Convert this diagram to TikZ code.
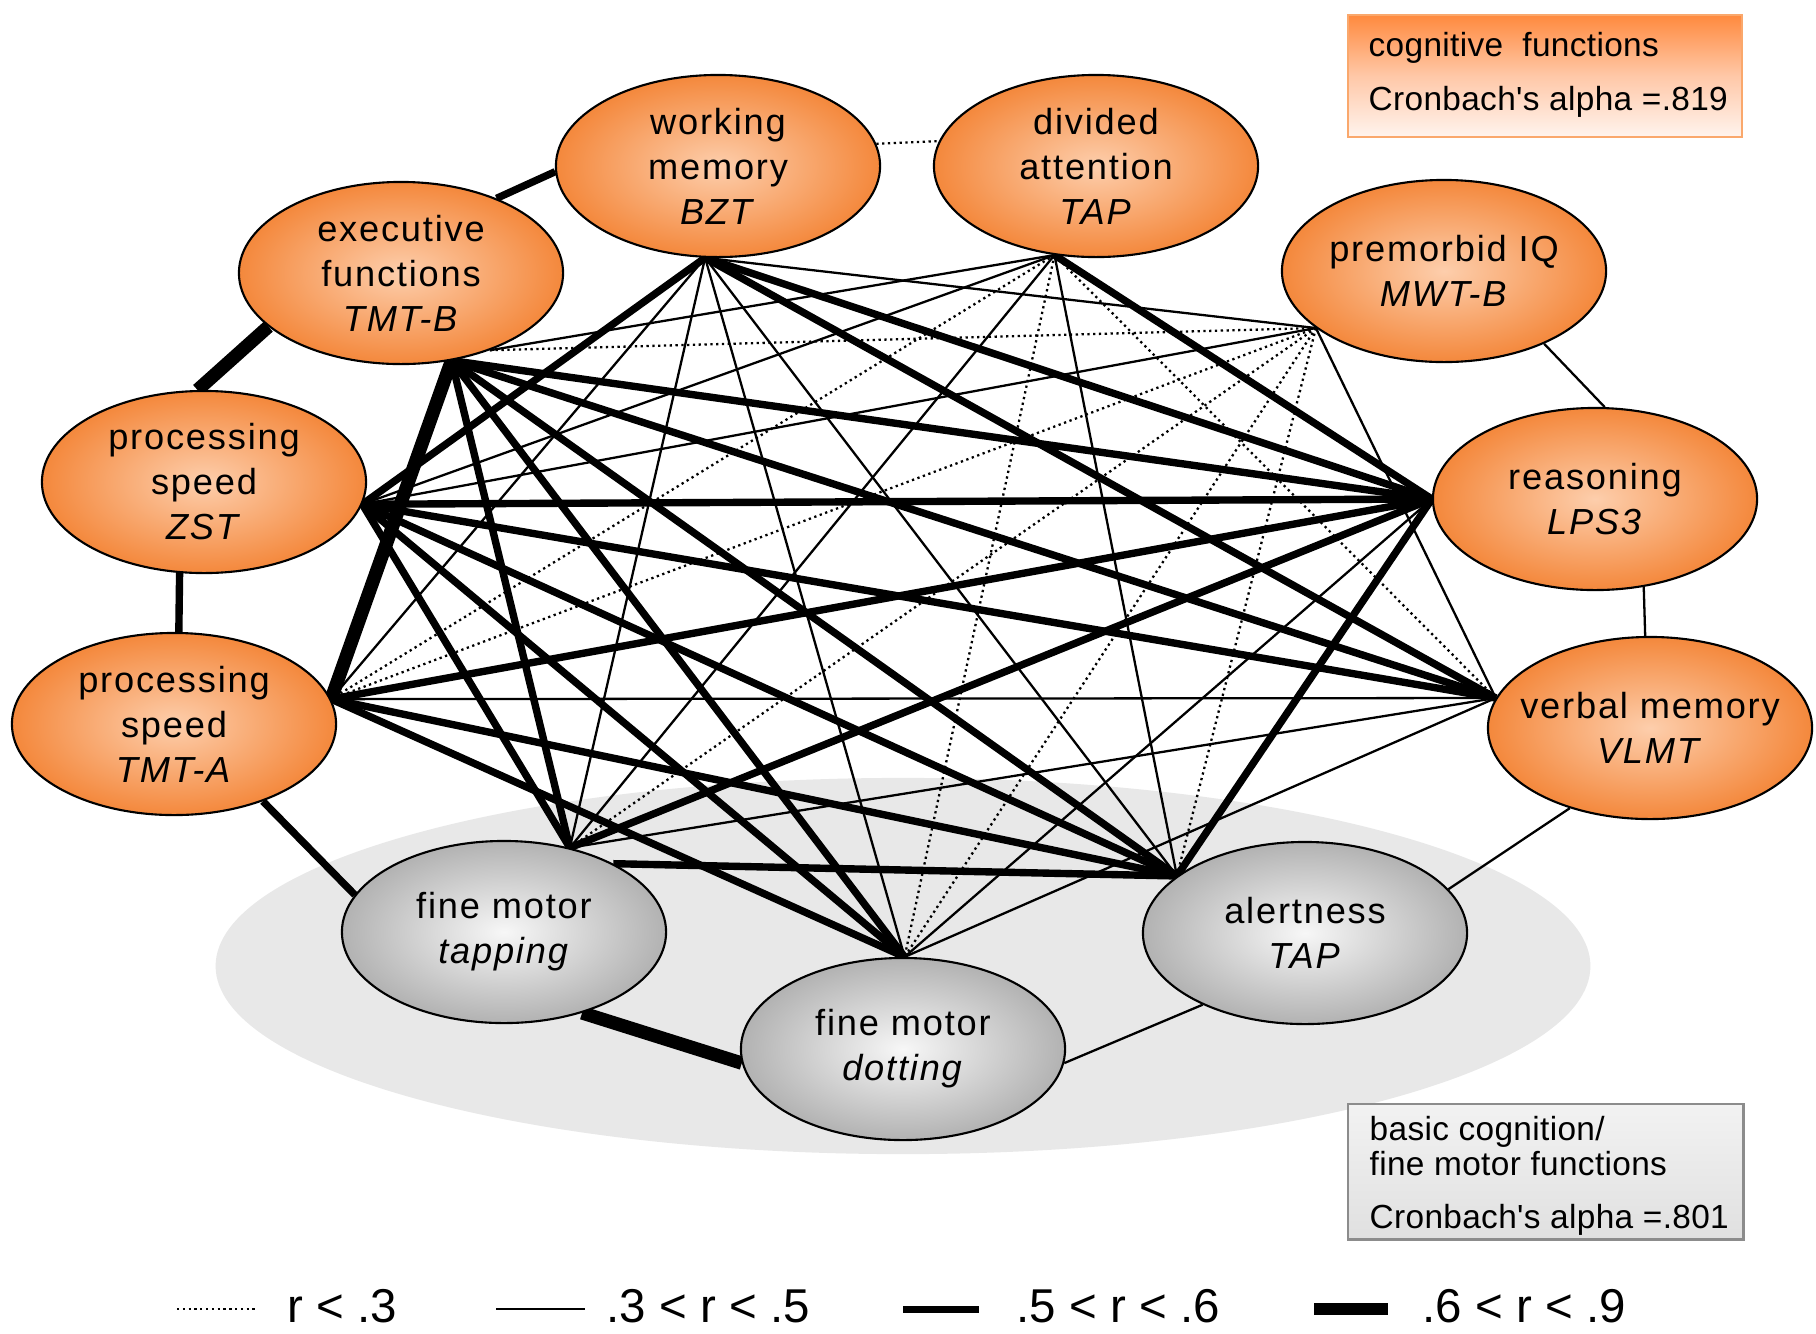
\documentclass[tikz,border=0pt]{standalone}
\usepackage{fontspec}
\setmainfont{Liberation Sans}
\newfontfamily\nodefont{Liberation Sans}[LetterSpace=5]
\newfontfamily\boxfont{Liberation Sans}[LetterSpace=1]
\usetikzlibrary{shapes.geometric}
\pgfdeclarelayer{bgA}
\pgfdeclarelayer{bgB}
\pgfsetlayers{bgA,bgB,main}
\definecolor{orO}{RGB}{244,136,60}
\definecolor{orI}{RGB}{253,206,172}
\definecolor{grO}{RGB}{178,178,178}
\definecolor{grI}{RGB}{247,247,247}
\definecolor{bgE}{RGB}{232,232,232}
\definecolor{boxTop}{RGB}{255,138,62}
\definecolor{boxMid}{RGB}{255,200,168}
\definecolor{boxBot}{RGB}{255,244,238}
\definecolor{boxLine}{RGB}{250,168,108}
\definecolor{gboxTop}{RGB}{242,242,242}
\definecolor{gboxBot}{RGB}{224,224,224}
\definecolor{gboxLine}{RGB}{140,140,140}
\newcommand\nodetext{\nodefont\fontsize{10.3}{12.8}\selectfont}
\newcommand\boxtext{\boxfont\fontsize{9.5}{11}\selectfont}
\newcommand\legtext{\fontsize{13.5}{16}\selectfont}
\tikzset{
  cog/.style={ellipse, draw, line width=0.6pt, minimum width=3.24cm, minimum height=1.82cm,
    inner sep=0pt, inner color=orI, outer color=orO},
  mot/.style={cog, inner color=grI, outer color=grO},
  ntxt/.style={align=center, inner sep=0pt, font=\nodetext},
  rlow/.style={line width=0.65pt, dash pattern=on 0.65pt off 1.0pt},
  rmid/.style={line width=0.65pt},
  rhigh/.style={line width=2.1pt},
  rtop/.style={line width=3.8pt},
  btxt/.style={anchor=base west, inner sep=0pt, font=\boxtext},
  ltxt/.style={anchor=base west, inner sep=0pt, font=\legtext}
}
\begin{document}
\begin{tikzpicture}[x=0.01cm,y=-0.01cm]
\useasboundingbox (0,0) rectangle (1816,1333);
\begin{pgfonlayer}{bgA}
\fill[white] (0,0) rectangle (1816,1333);
\fill[bgE] (903,966) ellipse [x radius=6.87cm, y radius=1.88cm];
\end{pgfonlayer}

% nodes (shapes)
\node[cog] (WM) at (718,166) {};
\node[cog] (DA) at (1096,166) {};
\node[cog] (EF) at (401,273) {};
\node[cog] (IQ) at (1444,271) {};
\node[cog] (PS) at (204,482) {};
\node[cog] (RE) at (1595,499) {};
\node[cog] (TA) at (174,724) {};
\node[cog] (VM) at (1650,728) {};
\node[mot] (FT) at (504,932) {};
\node[mot] (AL) at (1305,933) {};
\node[mot] (FD) at (903,1049) {};
% node texts
\node[ntxt] (WMt) at (WM.center) {working\\memory\\\textit{BZT}};
\node[ntxt] (DAt) at (DA.center) {divided\\attention\\\textit{TAP}};
\node[ntxt] (EFt) at (EF.center) {executive\\functions\\\textit{TMT-B}};
\node[ntxt] (IQt) at (IQ.center) {premorbid IQ\\\textit{MWT-B}};
\node[ntxt] (PSt) at (PS.center) {processing\\speed\\\textit{ZST}};
\node[ntxt] (REt) at (RE.center) {reasoning\\\textit{LPS3}};
\node[ntxt] (TAt) at (TA.center) {processing\\speed\\\textit{TMT-A}};
\node[ntxt] (VMt) at (VM.center) {verbal memory\\\textit{VLMT}};
\node[ntxt] (FTt) at (FT.center) {fine motor\\\textit{tapping}};
\node[ntxt] (ALt) at (AL.center) {alertness\\\textit{TAP}};
\node[ntxt] (FDt) at (FD.center) {fine motor\\\textit{dotting}};

% hub points on the borders
\coordinate (wm) at (WM.262);
\coordinate (da) at (DA.245);
\coordinate (ef) at (EF.300);
\coordinate (efr) at (EF.319);
\coordinate (iq) at (IQ.204);
\coordinate (ps) at (PS.352);
\coordinate (re) at (RE.180);
\coordinate (ta) at (TA.9);
\coordinate (vm) at (VM.169);
\coordinate (ft) at (FT.52);
\coordinate (ftr) at (FT.32);
\coordinate (al) at (AL.156);
\coordinate (fd) at (FD.89);

\begin{pgfonlayer}{bgB}
% r < .3
\draw[rlow] (da) -- (ta);
\draw[rlow] (da) -- (fd);
\draw[rlow] (da) -- (vm);
\draw[rlow] (efr) -- (iq);
\draw[rlow] (iq) -- (ta);
\draw[rlow] (iq) -- (ft);
\draw[rlow] (iq) -- (fd);
\draw[rlow] (iq) -- (al);
% .3 < r < .5
\draw[rmid] (wm) -- (ta);
\draw[rmid] (wm) -- (ft);
\draw[rmid] (wm) -- (fd);
\draw[rmid] (wm) -- (al);
\draw[rmid] (wm) -- (iq);
\draw[rmid] (da) -- (efr);
\draw[rmid] (da) -- (ps);
\draw[rmid] (da) -- (ft);
\draw[rmid] (da) -- (al);
\draw[rmid] (ps) -- (iq);
\draw[rmid] (iq) -- (vm);
\draw[rmid] (ta) -- (vm);
\draw[rmid] (vm) -- (ft);
\draw[rmid] (fd) -- (re);
\draw[rmid] (fd) -- (vm);
% .5 < r < .6
\draw[rhigh] (wm) -- (ps);
\draw[rhigh] (wm) -- (vm);
\draw[rhigh] (wm) -- (re);
\draw[rhigh] (da) -- (re);
\draw[rhigh] (ef) -- (ft);
\draw[rhigh] (ef) -- (fd);
\draw[rhigh] (ef) -- (al);
\draw[rhigh] (ef) -- (vm);
\draw[rhigh] (ef) -- (re);
\draw[rhigh] (ps) -- (re);
\draw[rhigh] (ps) -- (vm);
\draw[rhigh] (ps) -- (al);
\draw[rhigh] (ps) -- (fd);
\draw[rhigh] (ps) -- (ft);
\draw[rhigh] (ta) -- (re);
\draw[rhigh] (ta) -- (al);
\draw[rhigh] (ta) -- (fd);
\draw[rhigh] (re) -- (ft);
\draw[rhigh] (re) -- (al);
\draw[rhigh] (ftr) -- (al);
% .6 < r < .9
\draw[rtop] (ef) -- (ta);
% outer ring
\draw[rlow] (WM.8) -- (DA.171);
\draw[rhigh] (EF.38) -- (WM.182);
\draw[rtop] (EF.202) -- (PS.94);
\draw[rhigh] (PS.255) -- (TA.87);
\draw[rhigh] (TA.-41) -- (FT.166);
\draw[rtop] (FT.-46) -- (FD.185);
\draw[rmid] (FD.-5) -- (AL.215);
\draw[rmid] (AL.17) -- (VM.225);
\draw[rmid] (VM.93) -- (RE.-61);
\draw[rmid] (RE.84) -- (IQ.-36);
\end{pgfonlayer}

% boxes
\node[draw=boxLine, line width=0.6pt, top color=boxTop, bottom color=boxBot, middle color=boxMid,
  minimum width=3.94cm, minimum height=1.22cm, inner sep=0pt, anchor=north west] (cogbox) at (1347,14) {};
\node[btxt] (cogT1) at (1368,56) {cognitive~~functions};
\node[btxt] (cogT2) at (1368,110) {Cronbach's alpha =.819};

\node[draw=gboxLine, line width=0.7pt, top color=gboxTop, bottom color=gboxBot,
  minimum width=3.95cm, minimum height=1.35cm, inner sep=0pt, anchor=north west] (motbox) at (1347,1103) {};
\node[btxt] (motT1) at (1369,1140) {basic cognition/};
\node[btxt] (motT2) at (1369,1175) {fine motor functions};
\node[btxt] (motT3) at (1369,1228) {Cronbach's alpha =.801};

% legend
\draw[rlow] (177,1309) -- (255,1309);
\node[ltxt] (leg1) at (287,1322) {r < .3};
\draw[rmid] (496,1309) -- (585,1309);
\node[ltxt] (leg2) at (606,1322) {.3 < r < .5};
\draw[line width=2pt] (903,1309) -- (979,1309);
\node[ltxt] (leg3) at (1016,1322) {.5 < r < .6};
\draw[line width=3.6pt] (1314,1309) -- (1388,1309);
\node[ltxt] (leg4) at (1422,1322) {.6 < r < .9};
\end{tikzpicture}
\end{document}
